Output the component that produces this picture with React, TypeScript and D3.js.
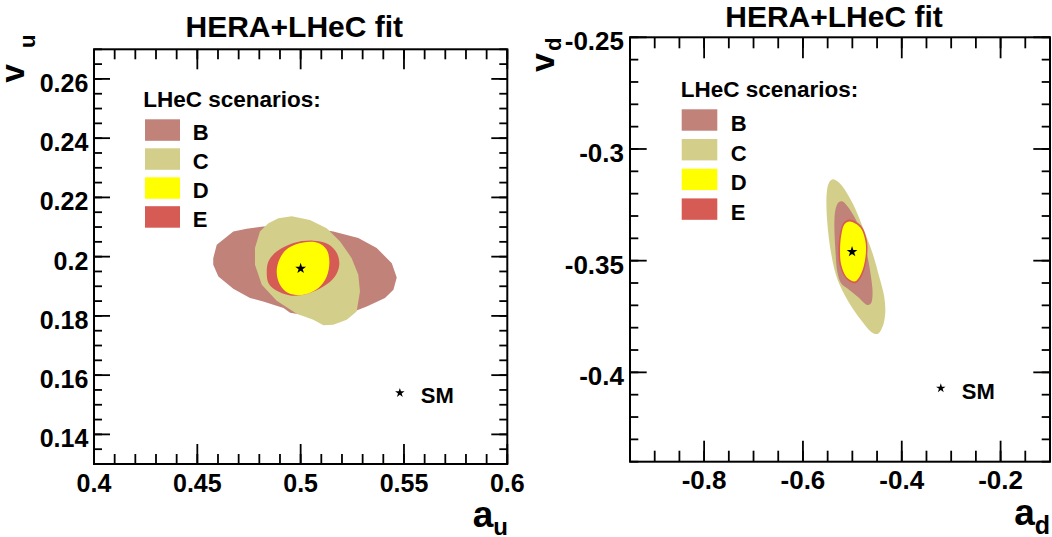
import React from 'react';
import * as d3 from 'd3';

type Pt = [number, number];

// ---------------- data ----------------
const scenarioLabels = ['B', 'C', 'D', 'E'];
const chartTitle = 'HERA+LHeC fit';
const legendTitle = 'LHeC scenarios:';
const smLabel = 'SM';

// Left panel: a_u vs v_u
const auDomain: Pt = [0.4, 0.6];
const vuDomain: Pt = [0.13, 0.27];
const auTicks = [0.4, 0.45, 0.5, 0.55, 0.6];
const auTickLabels = ['0.4', '0.45', '0.5', '0.55', '0.6'];
const vuTicks = [0.14, 0.16, 0.18, 0.2, 0.22, 0.24, 0.26];
const vuTickLabels = ['0.14', '0.16', '0.18', '0.2', '0.22', '0.24', '0.26'];

const uContourB: Pt[] = [
  [0.4577, 0.1995], [0.4594, 0.2040], [0.4674, 0.2085], [0.4739, 0.2094], [0.4819, 0.2102],
  [0.4997, 0.2104], [0.5158, 0.2085], [0.5279, 0.2063], [0.5368, 0.2029], [0.5441, 0.1978],
  [0.5465, 0.1930], [0.5449, 0.1888], [0.5408, 0.1860], [0.5320, 0.1832], [0.5239, 0.1810],
  [0.5094, 0.1794], [0.4949, 0.1811], [0.4917, 0.1827], [0.4819, 0.1849], [0.4755, 0.1860],
  [0.4674, 0.1892], [0.4602, 0.1933], [0.4577, 0.1973],
];
const uContourC: Pt[] = [
  [0.4892, 0.2130], [0.4957, 0.2136], [0.5045, 0.2124], [0.5126, 0.2096], [0.5191, 0.2051],
  [0.5247, 0.1995], [0.5279, 0.1939], [0.5287, 0.1882], [0.5271, 0.1815], [0.5223, 0.1787],
  [0.5158, 0.1770], [0.5110, 0.1768], [0.5061, 0.1787], [0.4981, 0.1807], [0.4884, 0.1851],
  [0.4812, 0.1905], [0.4779, 0.1973], [0.4779, 0.2029], [0.4803, 0.2085], [0.4844, 0.2113],
];
const uContourE: Pt[] = [
  [0.4836, 0.1945], [0.4844, 0.1984], [0.4884, 0.2017], [0.4965, 0.2046], [0.5061, 0.2054],
  [0.5134, 0.2042], [0.5175, 0.2012], [0.5187, 0.1973], [0.5166, 0.1933], [0.5110, 0.1899],
  [0.5029, 0.1874], [0.4949, 0.1869], [0.4876, 0.1888], [0.4844, 0.1911],
];
const uContourD: Pt[] = [
  [0.4884, 0.1950], [0.4900, 0.1995], [0.4940, 0.2029], [0.5013, 0.2048], [0.5086, 0.2046],
  [0.5126, 0.2023], [0.5139, 0.1984], [0.5126, 0.1933], [0.5086, 0.1894], [0.5013, 0.1871],
  [0.4940, 0.1877], [0.4900, 0.1905],
];
const uFit: Pt = [0.5, 0.196];
const uSM: Pt = [0.548, 0.154];

// Right panel: a_d vs v_d
const adDomain: Pt = [-0.95, -0.1];
const vdDomain: Pt = [-0.44, -0.25];
const adTicks = [-0.8, -0.6, -0.4, -0.2];
const adTickLabels = ['-0.8', '-0.6', '-0.4', '-0.2'];
const vdTicks = [-0.4, -0.35, -0.3, -0.25];
const vdTickLabels = ['-0.4', '-0.35', '-0.3', '-0.25'];

const dContourC: Pt[] = [
  [-0.5398, -0.3136], [-0.5297, -0.3146], [-0.5196, -0.3169], [-0.4994, -0.3243], [-0.4793, -0.3348],
  [-0.4591, -0.3467], [-0.4456, -0.3572], [-0.4355, -0.3661], [-0.4335, -0.3736], [-0.4389, -0.3796],
  [-0.4490, -0.3828], [-0.4623, -0.3818], [-0.4825, -0.3766], [-0.5061, -0.3691], [-0.5297, -0.3587],
  [-0.5430, -0.3467], [-0.5511, -0.3318], [-0.5519, -0.3198], [-0.5475, -0.3152],
];
const dContourB: Pt[] = [
  [-0.5277, -0.3239], [-0.5196, -0.3235], [-0.5095, -0.3258], [-0.4926, -0.3318], [-0.4793, -0.3393],
  [-0.4692, -0.3482], [-0.4623, -0.3572], [-0.4591, -0.3646], [-0.4623, -0.3691], [-0.4692, -0.3698],
  [-0.4893, -0.3661], [-0.5061, -0.3631], [-0.5228, -0.3601], [-0.5303, -0.3551], [-0.5343, -0.3452],
  [-0.5364, -0.3333], [-0.5343, -0.3273],
];
const dContourE: Pt[] = [
  [-0.5051, -0.3316], [-0.4819, -0.3345], [-0.4708, -0.3407], [-0.4698, -0.3470], [-0.4758, -0.3542],
  [-0.4859, -0.3587], [-0.4950, -0.3602], [-0.5121, -0.3582], [-0.5253, -0.3524], [-0.5283, -0.3452],
  [-0.5253, -0.3381], [-0.5182, -0.3331],
];
const dContourD: Pt[] = [
  [-0.5051, -0.3325], [-0.4839, -0.3352], [-0.4738, -0.3410], [-0.4728, -0.3470], [-0.4789, -0.3540],
  [-0.4879, -0.3580], [-0.4950, -0.3593], [-0.5111, -0.3575], [-0.5222, -0.3522], [-0.5249, -0.3452],
  [-0.5222, -0.3383], [-0.5162, -0.3338],
];
const dFit: Pt = [-0.5006, -0.346];
const dSM: Pt = [-0.321, -0.4071];

// ---------------- styles ----------------
const COLORS: Record<string, string> = {
  B: '#c08279',
  C: '#d3cf8b',
  D: '#ffff00',
  E: '#d65b55',
};
const FONT = '"Liberation Sans", Arial, Helvetica, sans-serif';

interface Layout {
  x0: number; x1: number; y0: number; y1: number;
  titleX: number; titleY: number;
  xMajorLen: number; xMinorLen: number; yMajorLen: number; yMinorLen: number;
  tickFont: number; xLabelDy: number; yLabelDx: number;
  legX: number; legY: number; boxX: number; boxW: number; boxH: number; boxTops: number[]; letterX: number; letterDy: number;
  vX: number; vStartY: number; vFont: number; subX: number; subStartY: number; subFont: number;
  aEndX: number; aY: number; aFont: number; aSubFont: number; aSubDy: number;
}

interface PanelProps {
  layout: Layout;
  xDomain: Pt; yDomain: Pt;
  xTicks: number[]; xTickLabels: string[]; xMinorStep: number;
  yTicks: number[]; yTickLabels: string[]; yMinorStep: number;
  contours: { key: string; pts: Pt[]; smooth: boolean }[];
  fit: Pt; sm: Pt;
  xName: string; xSub: string; yName: string; ySub: string;
}

function minorRange(d: Pt, step: number): number[] {
  const n = Math.round((d[1] - d[0]) / step);
  return d3.range(n + 1).map((i) => d[0] + i * step);
}

function Panel(p: PanelProps) {
  const L = p.layout;
  const x = d3.scaleLinear().domain(p.xDomain).range([L.x0, L.x1]);
  const y = d3.scaleLinear().domain(p.yDomain).range([L.y1, L.y0]);
  const lineLin = d3.line<Pt>().x((d) => x(d[0])).y((d) => y(d[1])).curve(d3.curveLinearClosed);
  const lineSmooth = d3.line<Pt>().x((d) => x(d[0])).y((d) => y(d[1])).curve(d3.curveCatmullRomClosed.alpha(0.5));
  const starBig = d3.symbol(d3.symbolStar, 36)()!;
  const starSm = d3.symbol(d3.symbolStar, 28)()!;
  const xMinor = minorRange(p.xDomain, p.xMinorStep);
  const yMinor = minorRange(p.yDomain, p.yMinorStep);
  const sw = 1.8;
  return (
    <g>
      <text x={L.titleX} y={L.titleY} textAnchor="middle" fontFamily={FONT} fontWeight="bold" fontSize={30}>
        {chartTitle}
      </text>
      {p.contours.map((c) => (
        <path key={c.key} d={(c.smooth ? lineSmooth : lineLin)(c.pts)!} fill={COLORS[c.key]} stroke="none" />
      ))}
      <path d={starBig} transform={`translate(${x(p.fit[0])},${y(p.fit[1])})`} fill="#000" />
      <path d={starSm} transform={`translate(${x(p.sm[0])},${y(p.sm[1])})`} fill="#000" />
      <text x={x(p.sm[0]) + 21} y={y(p.sm[1]) + 10.3} fontFamily={FONT} fontWeight="bold" fontSize={22}>
        {smLabel}
      </text>
      {/* legend */}
      <text x={L.legX} y={L.legY} fontFamily={FONT} fontWeight="bold" fontSize={22.5}>{legendTitle}</text>
      {scenarioLabels.map((s, i) => (
        <g key={s}>
          <rect x={L.boxX} y={L.boxTops[i]} width={L.boxW} height={L.boxH} fill={COLORS[s]} />
          <text x={L.letterX} y={L.boxTops[i] + L.letterDy} fontFamily={FONT} fontWeight="bold" fontSize={22}>{s}</text>
        </g>
      ))}
      {/* ticks */}
      <g stroke="#000" strokeWidth={sw}>
        {xMinor.map((v, i) => (
          <g key={'xm' + i}>
            <line x1={x(v)} x2={x(v)} y1={L.y1} y2={L.y1 - L.xMinorLen} />
            <line x1={x(v)} x2={x(v)} y1={L.y0} y2={L.y0 + L.xMinorLen} />
          </g>
        ))}
        {p.xTicks.map((v, i) => (
          <g key={'xM' + i}>
            <line x1={x(v)} x2={x(v)} y1={L.y1} y2={L.y1 - L.xMajorLen} />
            <line x1={x(v)} x2={x(v)} y1={L.y0} y2={L.y0 + L.xMajorLen} />
          </g>
        ))}
        {yMinor.map((v, i) => (
          <g key={'ym' + i}>
            <line x1={L.x0} x2={L.x0 + L.yMinorLen} y1={y(v)} y2={y(v)} />
            <line x1={L.x1} x2={L.x1 - L.yMinorLen} y1={y(v)} y2={y(v)} />
          </g>
        ))}
        {p.yTicks.map((v, i) => (
          <g key={'yM' + i}>
            <line x1={L.x0} x2={L.x0 + L.yMajorLen} y1={y(v)} y2={y(v)} />
            <line x1={L.x1} x2={L.x1 - L.yMajorLen} y1={y(v)} y2={y(v)} />
          </g>
        ))}
      </g>
      <rect x={L.x0} y={L.y0} width={L.x1 - L.x0} height={L.y1 - L.y0} fill="none" stroke="#000" strokeWidth={2} />
      {p.xTicks.map((v, i) => (
        <text key={'xl' + i} x={x(v)} y={L.y1 + L.xLabelDy} textAnchor="middle" fontFamily={FONT} fontWeight="bold" fontSize={L.tickFont}>
          {p.xTickLabels[i]}
        </text>
      ))}
      {p.yTicks.map((v, i) => (
        <text key={'yl' + i} x={L.x0 - L.yLabelDx} y={y(v) + 13} textAnchor="end" fontFamily={FONT} fontWeight="bold" fontSize={L.tickFont}>
          {p.yTickLabels[i]}
        </text>
      ))}
      {/* axis titles */}
      <text x={L.aEndX} y={L.aY} textAnchor="end" fontFamily={FONT} fontWeight="bold" fontSize={L.aFont}>
        {p.xName}
        <tspan fontSize={L.aSubFont} dy={L.aSubDy}>{p.xSub}</tspan>
      </text>
      <text transform={`translate(${L.vX},${L.vStartY}) rotate(-90)`} fontFamily={FONT} fontWeight="bold" fontSize={L.vFont}>
        {p.yName}
      </text>
      <text transform={`translate(${L.subX},${L.subStartY}) rotate(-90)`} fontFamily={FONT} fontWeight="bold" fontSize={L.subFont}>
        {p.ySub}
      </text>
    </g>
  );
}

const leftLayout: Layout = {
  x0: 94, x1: 507.3, y0: 49.3, y1: 464,
  titleX: 294.3, titleY: 36.7,
  xMajorLen: 20, xMinorLen: 10, yMajorLen: 16, yMinorLen: 8,
  tickFont: 25, xLabelDy: 27.7, yLabelDx: 5.7,
  legX: 143.3, legY: 106.7, boxX: 145, boxW: 35, boxH: 21.5, boxTops: [119.3, 148.3, 177.3, 206.2], letterX: 192.7, letterDy: 20.8,
  vX: 24, vStartY: 82.5, vFont: 33, subX: 35, subStartY: 48, subFont: 22,
  aEndX: 508, aY: 527, aFont: 37, aSubFont: 24, aSubDy: 8,
};

const rightLayout: Layout = {
  x0: 630, x1: 1050, y0: 37.3, y1: 461.7,
  titleX: 834, titleY: 26.5,
  xMajorLen: 21, xMinorLen: 11, yMajorLen: 16.7, yMinorLen: 8.3,
  tickFont: 26, xLabelDy: 26.8, yLabelDx: 6,
  legX: 680.7, legY: 97.3, boxX: 681.7, boxW: 35.6, boxH: 21.4, boxTops: [109.3, 139, 168.7, 198.4], letterX: 730.7, letterDy: 21.7,
  vX: 554, vStartY: 72, vFont: 34, subX: 561, subStartY: 51, subFont: 22,
  aEndX: 1050, aY: 525, aFont: 37, aSubFont: 25, aSubDy: 9,
};

export default function App() {
  return (
    <svg width={1052} height={537} style={{ position: 'absolute', left: 0, top: 0, background: '#fff' }}>
      <rect x={0} y={0} width={1052} height={537} fill="#fff" />
      <Panel
        layout={leftLayout}
        xDomain={auDomain} yDomain={vuDomain}
        xTicks={auTicks} xTickLabels={auTickLabels} xMinorStep={0.01}
        yTicks={vuTicks} yTickLabels={vuTickLabels} yMinorStep={0.005}
        contours={[
          { key: 'B', pts: uContourB, smooth: false },
          { key: 'C', pts: uContourC, smooth: false },
          { key: 'E', pts: uContourE, smooth: true },
          { key: 'D', pts: uContourD, smooth: true },
        ]}
        fit={uFit} sm={uSM}
        xName="a" xSub="u" yName="v" ySub="u"
      />
      <Panel
        layout={rightLayout}
        xDomain={adDomain} yDomain={vdDomain}
        xTicks={adTicks} xTickLabels={adTickLabels} xMinorStep={0.05}
        yTicks={vdTicks} yTickLabels={vdTickLabels} yMinorStep={0.01}
        contours={[
          { key: 'C', pts: dContourC, smooth: true },
          { key: 'B', pts: dContourB, smooth: true },
          { key: 'E', pts: dContourE, smooth: true },
          { key: 'D', pts: dContourD, smooth: true },
        ]}
        fit={dFit} sm={dSM}
        xName="a" xSub="d" yName="v" ySub="d"
      />
    </svg>
  );
}
